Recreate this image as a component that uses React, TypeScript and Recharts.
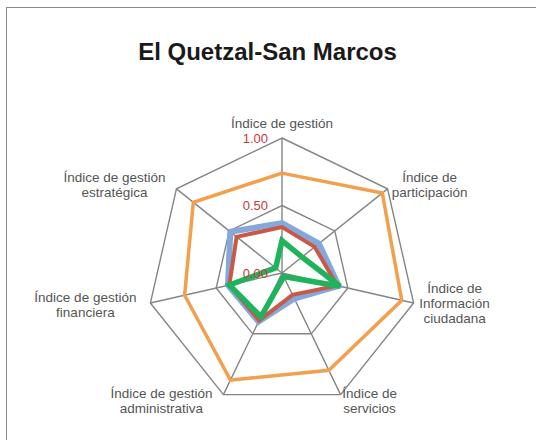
import React from 'react'
import { RadarChart, Radar, PolarGrid, PolarAngleAxis, PolarRadiusAxis } from 'recharts'

const categories = [
  'Índice de gestión',
  'Índice de participación',
  'Índice de Información ciudadana',
  'Índice de servicios',
  'Índice de gestión administrativa',
  'Índice de gestión financiera',
  'Índice de gestión estratégica'
]

const serie1 = [0.37, 0.35, 0.43, 0.21, 0.4, 0.41, 0.49]
const serie2 = [0.34, 0.31, 0.42, 0.18, 0.39, 0.4, 0.43]
const serie3 = [0.74, 0.95, 0.91, 0.8, 0.88, 0.74, 0.84]
const serie4 = [0.24, 0.19, 0.44, 0.03, 0.36, 0.4, 0.06]

const radiusTicks = [0, 0.5, 1]

// label lines for each axis, how they wrap in the original
const labelLines = [
  ['Índice de gestión'],
  ['Índice de', 'participación'],
  ['Índice de', 'Información', 'ciudadana'],
  ['Índice de', 'servicios'],
  ['Índice de gestión', 'administrativa'],
  ['Índice de gestión', 'financiera'],
  ['Índice de gestión', 'estratégica']
]
// offset of the label block from its axis end
const labelOffsets = [
  [0, -10],
  [42, -7],
  [41, -10],
  [29, 3.5],
  [-62, 3.5],
  [-65, -1],
  [-62, -7]
]

const data = categories.map((name, i) => ({
  name,
  s1: serie1[i],
  s2: serie2[i],
  s3: serie3[i],
  s4: serie4[i]
}))

const W = 540
const H = 440
const CX = 275
const CY = 265
const R = 135

const AngleTick = (props: any) => {
  const i = props.payload?.index ?? props.index ?? 0
  const a = (2 * Math.PI * i) / categories.length
  const vx = CX + R * Math.sin(a)
  const vy = CY - R * Math.cos(a)
  const [dx, dy] = labelOffsets[i]
  return (
    <text
      x={vx + dx}
      y={vy + dy}
      textAnchor='middle'
      fill='#555555'
      fontSize={13.5}
      fontFamily='Liberation Sans, Arial, sans-serif'
    >
      {labelLines[i].map((l, j) => (
        <tspan key={j} x={vx + dx} y={vy + dy + j * 15}>
          {l}
        </tspan>
      ))}
    </text>
  )
}

const RadiusTick = (props: any) => {
  const { x, y, payload } = props
  return (
    <text
      x={x - 14}
      y={y + 4.5}
      textAnchor='end'
      fill='#c8393b'
      fontSize={13}
      fontFamily='Liberation Sans, Arial, sans-serif'
    >
      {Number(payload.value).toFixed(2)}
    </text>
  )
}

export default function App() {
  return (
    <div
      style={{
        position: 'absolute',
        left: 6,
        top: 7,
        width: W,
        height: H,
        border: '1px solid #8a8a8a',
        background: '#fff',
        fontFamily: 'Liberation Sans, Arial, sans-serif'
      }}
    >
      <div
        style={{
          position: 'absolute',
          left: 0,
          top: 30,
          width: 521,
          textAlign: 'center',
          fontSize: 24,
          fontWeight: 'bold',
          color: '#1a1a1a'
        }}
      >
        El Quetzal-San Marcos
      </div>
      <div style={{ position: 'absolute', left: 0, top: 0 }}>
        <RadarChart
          width={W}
          height={H}
          data={data}
          cx={CX}
          cy={CY}
          outerRadius={R}
          startAngle={90}
          endAngle={-270}
        >
          <PolarGrid gridType='polygon' stroke='#858585' strokeWidth={1.4} />
          <PolarAngleAxis dataKey='name' tick={<AngleTick />} tickLine={false} axisLine={false} />
          <PolarRadiusAxis
            angle={90}
            domain={[0, 1]}
            ticks={radiusTicks as any}
            tickCount={3}
            axisLine={false}
            tickLine={false}
            tick={<RadiusTick />}
          />
          <Radar dataKey='s1' stroke='#84a8dc' strokeWidth={6} fill='none' fillOpacity={0} dot={false} isAnimationActive={false} />
          <Radar dataKey='s2' stroke='#c85a45' strokeWidth={4} fill='none' fillOpacity={0} dot={false} isAnimationActive={false} />
          <Radar dataKey='s3' stroke='#f2a04d' strokeWidth={3.5} fill='none' fillOpacity={0} dot={false} isAnimationActive={false} />
          <Radar dataKey='s4' stroke='#1fb35b' strokeWidth={5.5} fill='none' fillOpacity={0} dot={false} isAnimationActive={false} />
        </RadarChart>
      </div>
    </div>
  )
}
